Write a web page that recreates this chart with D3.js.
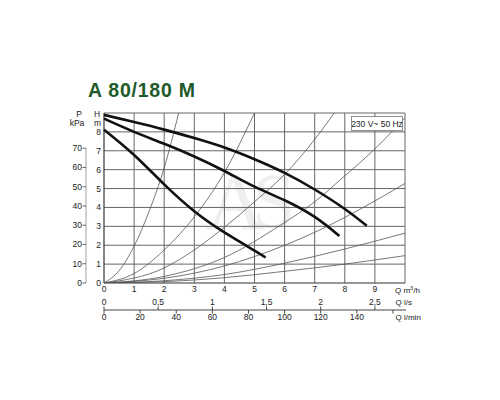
<!DOCTYPE html>
<html>
<head>
<meta charset="utf-8">
<script src="https://cdn.jsdelivr.net/npm/d3@7"></script>
<style>
  body { margin: 0; background: #fff; }
  svg text { font-family: "Liberation Sans", Arial, sans-serif; fill: #222; }
</style>
</head>
<body>
<div id="chart"></div>
<script>
// tick values
var qTicks = [0, 1, 2, 3, 4, 5, 6, 7, 8, 9];
var hTicks = [0, 1, 2, 3, 4, 5, 6, 7, 8];
var kpaTicks = [0, 10, 20, 30, 40, 50, 60, 70];
var lsTicks = [0, 0.5, 1, 1.5, 2, 2.5];
var lsLabels = ["0", "0,5", "1", "1,5", "2", "2,5"];
var lminTicks = [0, 20, 40, 60, 80, 100, 120, 140, 160];
var lminLabels = ["0", "20", "40", "60", "80", "100", "120", "140", ""];

// pump curves [Q m3/h, H m]
var speedMax = [[0, 8.9], [1, 8.52], [2, 8.12], [3, 7.67], [4, 7.17], [5, 6.55], [6, 5.83], [7, 4.95], [8, 3.92], [8.73, 3.03]];
var speedMid = [[0, 8.7], [1, 8.0], [2, 7.37], [3, 6.7], [4, 5.93], [5, 5.1], [6, 4.38], [7, 3.5], [7.82, 2.49]];
var speedMin = [[0, 8.12], [1, 6.78], [2, 5.22], [3, 3.8], [4, 2.68], [5, 1.72], [5.37, 1.35]];

// system curves
var sysA = [[0, 0], [0.5, 0.65], [1, 1.95], [1.5, 3.8], [2, 6.1], [2.48, 9]];
var sysB = [[0, 0], [1, 0.5], [2, 1.75], [3, 3.5], [4, 5.85], [5, 9]];
var sysC = [[0, 0], [2, 0.8], [3, 1.75], [4, 2.95], [5, 4.3], [6, 5.75], [7, 7.6], [7.65, 9]];
var sysD = [[0, 0], [2, 0.35], [4, 1.35], [5.87, 3.07], [7, 4.3], [7.84, 5.45], [9, 7.1], [10, 8.75]];
var sysE = [[0, 0], [2, 0.25], [4, 0.9], [5, 1.4], [7.09, 2.75], [8.5, 3.9], [10, 5.27]];
var sysF = [[0, 0], [2, 0.12], [4, 0.45], [6, 1.05], [8, 1.8], [10, 2.64]];
var sysG = [[0, 0], [2, 0.07], [4, 0.28], [6, 0.62], [8, 1.0], [10, 1.45]];

var width = 500, height = 400;
var plotLeft = 104, plotRight = 405, plotTop = 113, plotBottom = 283;

var svg = d3.select("#chart").append("svg")
    .attr("width", width)
    .attr("height", height);

var x = d3.scaleLinear().domain([0, 10]).range([plotLeft, plotRight]);
var y = d3.scaleLinear().domain([0, 9]).range([plotBottom, plotTop]);
var xLs = d3.scaleLinear().domain([0, 10 / 3.6]).range([plotLeft, plotRight]);
var xLmin = d3.scaleLinear().domain([0, 10 / 0.06]).range([plotLeft, plotRight]);

// title
svg.append("text")
    .attr("x", 88).attr("y", 96.5)
    .attr("textLength", 107).attr("lengthAdjust", "spacing")
    .style("font-size", "19.5px").style("font-weight", "bold")
    .style("fill", "#1e5a2a")
    .text("A 80/180 M");

// watermark
svg.append("text").attr("x", 206).attr("y", 229)
    .style("font-family", "'Liberation Serif', serif").style("font-size", "82px")
    .style("fill", "#efefef").text("A");
svg.append("text").attr("x", 252).attr("y", 227)
    .style("font-family", "'Liberation Serif', serif").style("font-size", "78px")
    .style("fill", "#efefef").text("S");

// grid
var grid = svg.append("g");
grid.selectAll("line.v")
    .data(d3.range(1, 11))
    .enter().append("line")
    .attr("x1", function (d) { return x(d); })
    .attr("x2", function (d) { return x(d); })
    .attr("y1", y(0)).attr("y2", y(9))
    .style("stroke", "#666").style("stroke-width", 1);
grid.selectAll("line.h")
    .data(d3.range(1, 10))
    .enter().append("line")
    .attr("x1", x(0)).attr("x2", x(10))
    .attr("y1", function (d) { return y(d); })
    .attr("y2", function (d) { return y(d); })
    .style("stroke", "#666").style("stroke-width", 1);
grid.append("line").attr("x1", x(0)).attr("x2", x(0)).attr("y1", y(0)).attr("y2", y(9))
    .style("stroke", "#333").style("stroke-width", 1.2);
grid.append("line").attr("x1", x(0)).attr("x2", x(10)).attr("y1", y(0)).attr("y2", y(0))
    .style("stroke", "#333").style("stroke-width", 1.2);

svg.append("clipPath").attr("id", "plot")
    .append("rect").attr("x", plotLeft).attr("y", plotTop)
    .attr("width", plotRight - plotLeft).attr("height", plotBottom - plotTop);

var sysLine = d3.line()
    .x(function (d) { return x(d[0]); })
    .y(function (d) { return y(d[1]); })
    .curve(d3.curveMonotoneX);

svg.append("g").attr("clip-path", "url(#plot)")
    .selectAll("path")
    .data([sysA, sysB, sysC, sysD, sysE, sysF, sysG])
    .enter().append("path")
    .attr("d", sysLine)
    .style("fill", "none").style("stroke", "#555").style("stroke-width", 0.8);

var pumpLine = d3.line()
    .x(function (d) { return x(d[0]); })
    .y(function (d) { return y(d[1]); })
    .curve(d3.curveNatural);

svg.append("g").selectAll("path")
    .data([speedMax, speedMid, speedMin])
    .enter().append("path")
    .attr("d", pumpLine)
    .style("fill", "none").style("stroke", "#111").style("stroke-width", 2.6);

// H axis labels
svg.selectAll("text.h")
    .data(hTicks)
    .enter().append("text")
    .attr("x", 101).attr("y", function (d) { return y(d) + 3; })
    .attr("text-anchor", "end").style("font-size", "8.5px")
    .text(function (d) { return d; });
svg.append("text").attr("x", 97).attr("y", 117).attr("text-anchor", "middle")
    .style("font-size", "8.5px").text("H");
svg.append("text").attr("x", 97.5).attr("y", 125.5).attr("text-anchor", "middle")
    .style("font-size", "8.5px").text("m");

// kPa axis
var kpa = svg.append("g");
kpa.append("line").attr("x1", 86).attr("x2", 86)
    .attr("y1", y(0)).attr("y2", y(70 / 9.81))
    .style("stroke", "#888").style("stroke-width", 0.8);
kpa.selectAll("line.t")
    .data(kpaTicks)
    .enter().append("line")
    .attr("x1", 82.5).attr("x2", 86)
    .attr("y1", function (d) { return y(d / 9.81); })
    .attr("y2", function (d) { return y(d / 9.81); })
    .style("stroke", "#444").style("stroke-width", 0.8);
kpa.selectAll("text")
    .data(kpaTicks)
    .enter().append("text")
    .attr("x", 82).attr("y", function (d) { return y(d / 9.81) + 3; })
    .attr("text-anchor", "end").style("font-size", "8.5px")
    .text(function (d) { return d; });
svg.append("text").attr("x", 79).attr("y", 116.5).attr("text-anchor", "middle")
    .style("font-size", "8.5px").text("P");
svg.append("text").attr("x", 77).attr("y", 125.5).attr("text-anchor", "middle")
    .style("font-size", "8.5px").text("kPa");

// Q m3/h labels
svg.selectAll("text.q")
    .data(qTicks)
    .enter().append("text")
    .attr("x", function (d) { return x(d); }).attr("y", 292)
    .attr("text-anchor", "middle").style("font-size", "8.5px")
    .text(function (d) { return d; });
var qm = svg.append("text").attr("x", 395).attr("y", 293).style("font-size", "8px");
qm.append("tspan").text("Q m");
qm.append("tspan").attr("dy", -3).style("font-size", "5.5px").text("3");
qm.append("tspan").attr("dy", 3).text("/h");

// l/s and l/min axis
var flow = svg.append("g");
flow.append("line").attr("x1", plotLeft).attr("x2", 406).attr("y1", 310).attr("y2", 310)
    .style("stroke", "#444").style("stroke-width", 1);
flow.selectAll("line.ls")
    .data(lsTicks)
    .enter().append("line")
    .attr("x1", function (d) { return xLs(d); })
    .attr("x2", function (d) { return xLs(d); })
    .attr("y1", 306.5).attr("y2", 310)
    .style("stroke", "#444").style("stroke-width", 1);
flow.selectAll("text.ls")
    .data(lsTicks)
    .enter().append("text")
    .attr("x", function (d) { return xLs(d); }).attr("y", 304.5)
    .attr("text-anchor", "middle").style("font-size", "8.5px")
    .text(function (d, i) { return lsLabels[i]; });
flow.selectAll("line.lm")
    .data(lminTicks)
    .enter().append("line")
    .attr("x1", function (d) { return xLmin(d); })
    .attr("x2", function (d) { return xLmin(d); })
    .attr("y1", 310).attr("y2", 313.5)
    .style("stroke", "#444").style("stroke-width", 1);
flow.selectAll("text.lm")
    .data(lminTicks)
    .enter().append("text")
    .attr("x", function (d) { return xLmin(d); }).attr("y", 320)
    .attr("text-anchor", "middle").style("font-size", "8.5px")
    .text(function (d, i) { return lminLabels[i]; });
svg.append("text").attr("x", 395.5).attr("y", 305).style("font-size", "8px").text("Q l/s");
svg.append("text").attr("x", 395.5).attr("y", 320).style("font-size", "8px").text("Q l/min");

// supply label
svg.append("rect").attr("x", 351.5).attr("y", 116.5).attr("width", 51).attr("height", 14)
    .style("fill", "#fff").style("stroke", "#777").style("stroke-width", 0.8);
svg.append("text").attr("x", 377).attr("y", 126.8).attr("text-anchor", "middle")
    .style("font-size", "8.5px").text("230 V~ 50 Hz");
</script>
</body>
</html>
